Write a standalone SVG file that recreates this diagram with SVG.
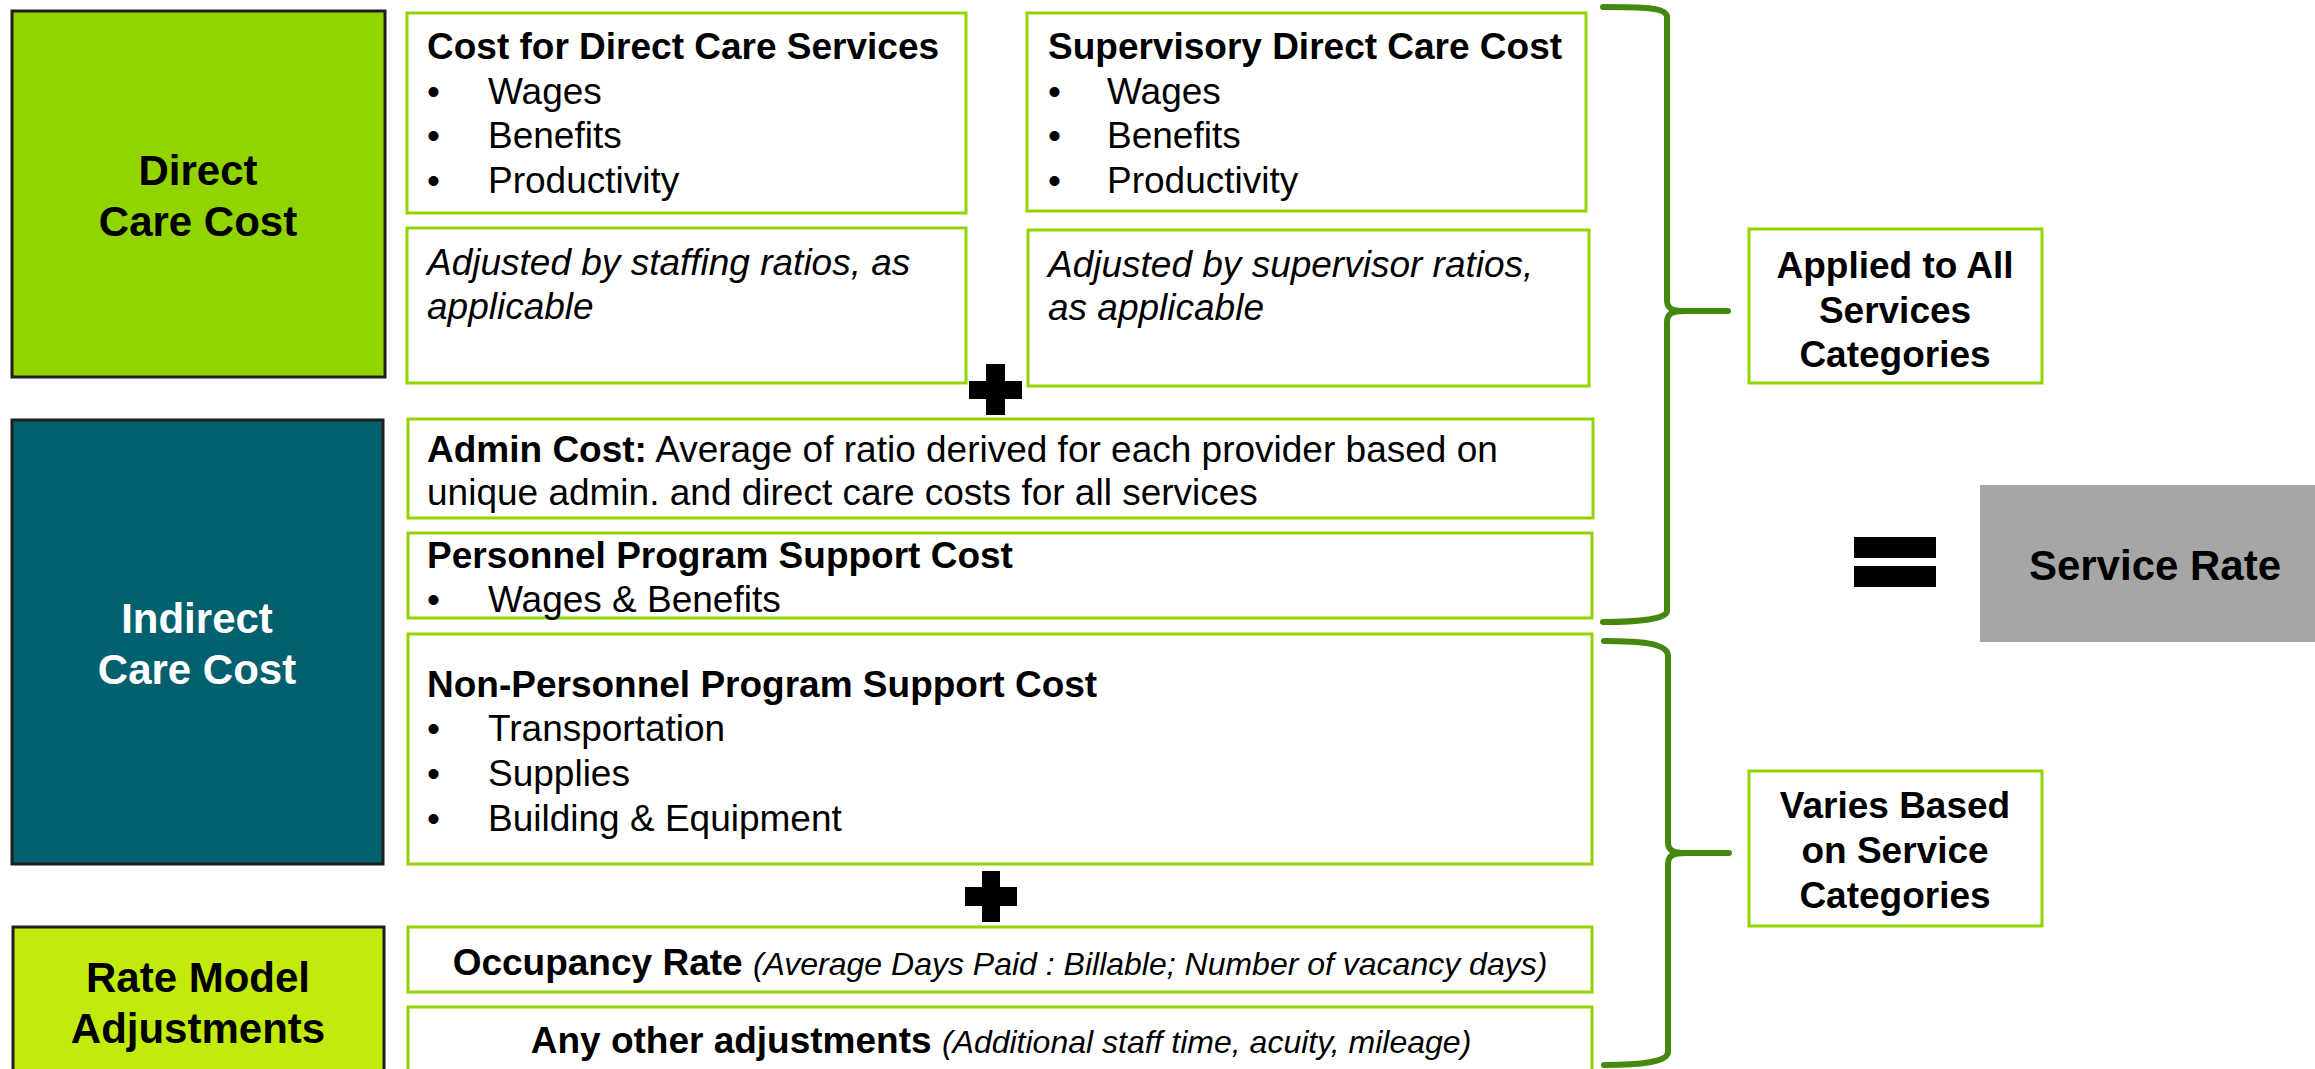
<svg xmlns="http://www.w3.org/2000/svg" width="2315" height="1069" viewBox="0 0 2315 1069">
<style>
text{font-family:"Liberation Sans",Arial,sans-serif;fill:#000}
.lbl{font-size:42px;font-weight:bold;text-anchor:middle}
.t{font-size:37px}
.b{font-weight:bold}
.i{font-style:italic}
.sm{font-size:32px;font-style:italic;font-weight:normal}
.box{fill:#fff;stroke:#92D400;stroke-width:3}
.cat{fill:#fff;stroke:#92D400;stroke-width:3}
.dark{stroke:#1e1e1e;stroke-width:3}
.mid{text-anchor:middle}
.brace{fill:none;stroke:#46880F;stroke-width:6;stroke-linecap:round;stroke-linejoin:round}
</style>
<rect width="2315" height="1069" fill="#fff"/>

<g id="direct-care">
<rect class="dark" x="12" y="11" width="373" height="366" fill="#92D400"/>
<text class="lbl" x="198" y="185">Direct</text>
<text class="lbl" x="198" y="236">Care Cost</text>
</g>

<g id="indirect-care">
<rect class="dark" x="12" y="420" width="371" height="444" fill="#03606E"/>
<text class="lbl" x="197" y="633" style="fill:#fff">Indirect</text>
<text class="lbl" x="197" y="684" style="fill:#fff">Care Cost</text>
</g>

<g id="rate-model">
<rect class="dark" x="13" y="927" width="371" height="160" fill="#C3EA0D"/>
<text class="lbl" x="198" y="992">Rate Model</text>
<text class="lbl" x="198" y="1043">Adjustments</text>
</g>

<g id="direct-services">
<rect class="box" x="407" y="13" width="559" height="200"/>
<text class="t b" x="427" y="59">Cost for Direct Care Services</text>
<text class="t" x="427" y="104">•</text><text class="t" x="488" y="104">Wages</text>
<text class="t" x="427" y="148">•</text><text class="t" x="488" y="148">Benefits</text>
<text class="t" x="427" y="193">•</text><text class="t" x="488" y="193">Productivity</text>
</g>

<g id="staffing-ratios">
<rect class="box" x="407" y="228" width="559" height="155"/>
<text class="t i" x="427" y="275">Adjusted by staffing ratios, as</text>
<text class="t i" x="427" y="319">applicable</text>
</g>

<g id="supervisory">
<rect class="box" x="1027" y="13" width="559" height="198"/>
<text class="t b" x="1048" y="59">Supervisory Direct Care Cost</text>
<text class="t" x="1048" y="104">•</text><text class="t" x="1107" y="104">Wages</text>
<text class="t" x="1048" y="148">•</text><text class="t" x="1107" y="148">Benefits</text>
<text class="t" x="1048" y="193">•</text><text class="t" x="1107" y="193">Productivity</text>
</g>

<g id="supervisor-ratios">
<rect class="box" x="1028" y="230" width="561" height="156"/>
<text class="t i" x="1048" y="277">Adjusted by supervisor ratios,</text>
<text class="t i" x="1048" y="320">as applicable</text>
</g>

<g id="plus-1">
<path d="M986,364 H1005 V381 H1022 V399 H1005 V415 H986 V399 H969 V381 H986 Z" fill="#000"/>
</g>

<g id="admin">
<rect class="box" x="408" y="419" width="1185" height="99"/>
<text class="t" x="427" y="462"><tspan class="b">Admin Cost:</tspan> Average of ratio derived for each provider based on</text>
<text class="t" x="427" y="505">unique admin. and direct care costs for all services</text>
</g>

<g id="personnel">
<rect class="box" x="408" y="533" width="1184" height="85"/>
<text class="t b" x="427" y="568">Personnel Program Support Cost</text>
<text class="t" x="427" y="612">•</text><text class="t" x="488" y="612">Wages &amp; Benefits</text>
</g>

<g id="non-personnel">
<rect class="box" x="408" y="634" width="1184" height="230"/>
<text class="t b" x="427" y="697">Non-Personnel Program Support Cost</text>
<text class="t" x="427" y="741">•</text><text class="t" x="488" y="741">Transportation</text>
<text class="t" x="427" y="786">•</text><text class="t" x="488" y="786">Supplies</text>
<text class="t" x="427" y="831">•</text><text class="t" x="488" y="831">Building &amp; Equipment</text>
</g>

<g id="plus-2">
<path d="M982,871 H1000 V887 H1017 V906 H1000 V922 H982 V906 H965 V887 H982 Z" fill="#000"/>
</g>

<g id="occupancy">
<rect class="box" x="408" y="927" width="1184" height="65"/>
<text class="t b mid" x="1000" y="975">Occupancy Rate <tspan class="sm">(Average Days Paid : Billable; Number of vacancy days)</tspan></text>
</g>

<g id="other-adjustments">
<rect class="box" x="408" y="1007" width="1184" height="80"/>
<text class="t b mid" x="1001" y="1053">Any other adjustments <tspan class="sm">(Additional staff time, acuity, mileage)</tspan></text>
</g>

<g id="connectors">
<path class="brace" d="M1603,7 C1640,7 1667,7 1667,17 V300 C1667,308 1671,311 1685,311 H1728 M1685,311 C1671,311 1667,314 1667,322 V611 C1667,619 1640,622 1603,622"/>
<path class="brace" d="M1604,641 C1640,641 1668,643 1668,656 V842 C1668,850 1672,853 1686,853 H1729 M1686,853 C1672,853 1668,856 1668,864 V1052 C1668,1062 1640,1065 1604,1065"/>
</g>

<g id="applied-all">
<rect class="cat" x="1749" y="229" width="293" height="154"/>
<text class="t b mid" x="1895" y="278">Applied to All</text>
<text class="t b mid" x="1895" y="323">Services</text>
<text class="t b mid" x="1895" y="367">Categories</text>
</g>

<g id="varies">
<rect class="cat" x="1749" y="771" width="293" height="155"/>
<text class="t b mid" x="1895" y="818">Varies Based</text>
<text class="t b mid" x="1895" y="863">on Service</text>
<text class="t b mid" x="1895" y="908">Categories</text>
</g>

<g id="equals">
<rect x="1854" y="537" width="82" height="21" fill="#000"/>
<rect x="1854" y="566" width="82" height="21" fill="#000"/>
</g>

<g id="service-rate">
<rect x="1980" y="485" width="335" height="157" fill="#A6A6A6"/>
<text class="lbl" x="2155" y="580">Service Rate</text>
</g>
</svg>
